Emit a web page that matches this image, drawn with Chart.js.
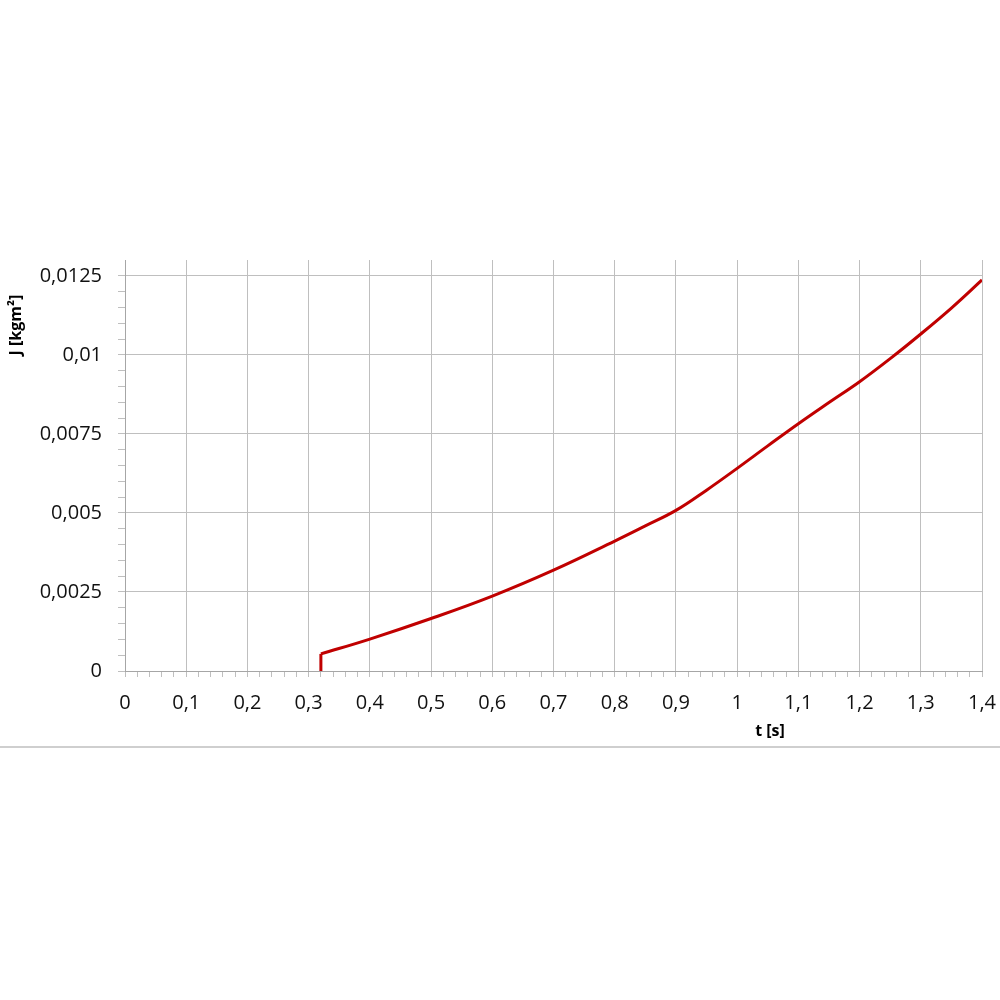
<!DOCTYPE html>
<html>
<head>
<meta charset="utf-8">
<script src="https://cdn.jsdelivr.net/npm/chart.js@4.4.1/dist/chart.umd.min.js"></script>
<style>
    body { margin: 0; background: #fff; }
    #wrap { width: 1000px; height: 1000px; }
</style>
</head>
<body>
<div id="wrap"><canvas id="jChart" width="1000" height="1000"></canvas></div>
<script>
// values
const jumpT = [0.32, 0.32];
const jumpJ = [0, 0.00054];
const tValues = [0.32, 0.4, 0.5, 0.6, 0.7, 0.8, 0.85, 0.9, 0.95, 1.0, 1.05, 1.1, 1.15, 1.2, 1.25, 1.3, 1.35, 1.4];
const jValues = [0.00054, 0.00101, 0.00166, 0.00237, 0.00319, 0.00411, 0.00459, 0.00508, 0.00572, 0.00641, 0.00712, 0.00782, 0.00849, 0.00915, 0.00988, 0.01066, 0.01148, 0.01237];

const xTitle = 't [s]';
const yTitle = 'J [kgm²]';

const gridGray = '#bfbfbf';
const lineRed = '#c00000';

function isMultiple(v, step) {
    const r = v / step;
    return Math.abs(r - Math.round(r)) < 1e-6;
}

function commaLabel(v) {
    return String(Number(v.toFixed(5))).replace('.', ',');
}

// axis titles and the frame line at the bottom
const extras = {
    id: 'extras',
    afterDraw(chart) {
        const ctx = chart.ctx;
        ctx.save();
        ctx.fillStyle = '#000';
        ctx.font = 'bold 16px "Open Sans"';
        ctx.textAlign = 'center';
        ctx.textBaseline = 'middle';
        ctx.fillText(xTitle, 770, 731);
        ctx.translate(16, 325);
        ctx.rotate(-Math.PI / 2);
        ctx.fillText(yTitle, 0, 0);
        ctx.restore();

        ctx.save();
        ctx.strokeStyle = gridGray;
        ctx.lineWidth = 1.5;
        ctx.beginPath();
        ctx.moveTo(0, 747);
        ctx.lineTo(1000, 747);
        ctx.stroke();
        ctx.restore();
    }
};

const ctx = document.getElementById('jChart').getContext('2d');
new Chart(ctx, {
    type: 'line',
    data: {
        datasets: [{
            data: jumpT.map((t, i) => ({ x: t, y: jumpJ[i] })),
            borderColor: lineRed,
            borderWidth: 3,
            pointRadius: 0,
            tension: 0
        }, {
            data: tValues.map((t, i) => ({ x: t, y: jValues[i] })),
            borderColor: lineRed,
            borderWidth: 3,
            pointRadius: 0,
            tension: 0.4
        }]
    },
    options: {
        responsive: false,
        animation: false,
        layout: { padding: { top: 260, right: 18, left: 0, bottom: 0 } },
        plugins: { legend: { display: false }, tooltip: { enabled: false } },
        scales: {
            x: {
                type: 'linear',
                min: 0,
                max: 1.4,
                afterFit(scale) {
                    scale.height = 329;
                    scale.paddingLeft = 0;
                    scale.paddingRight = 0;
                },
                border: { display: true, color: '#a6a6a6', width: 1 },
                grid: {
                    color: c => isMultiple(c.tick.value, 0.1) ? gridGray : 'rgba(0,0,0,0)',
                    tickColor: gridGray,
                    tickLength: 6,
                    lineWidth: 1
                },
                ticks: {
                    stepSize: 0.02,
                    autoSkip: false,
                    maxRotation: 0,
                    padding: 14,
                    color: '#111',
                    font: { family: '"Open Sans"', size: 20 },
                    callback: v => isMultiple(v, 0.1) ? commaLabel(v) : ''
                }
            },
            y: {
                type: 'linear',
                min: 0,
                max: 0.013,
                afterFit(scale) { scale.width = 125; },
                border: { display: true, color: '#a6a6a6', width: 1 },
                grid: {
                    color: c => (isMultiple(c.tick.value, 0.0025) && c.tick.value < 0.0129) ? gridGray : 'rgba(0,0,0,0)',
                    tickColor: c => c.tick.value < 0.0129 ? gridGray : 'rgba(0,0,0,0)',
                    tickLength: 7,
                    lineWidth: 1
                },
                ticks: {
                    stepSize: 0.0005,
                    autoSkip: false,
                    padding: 16,
                    color: '#111',
                    font: { family: '"Open Sans"', size: 20 },
                    callback: v => isMultiple(v, 0.0025) && v < 0.0129 ? commaLabel(v) : ''
                }
            }
        }
    },
    plugins: [extras]
});
</script>
</body>
</html>
